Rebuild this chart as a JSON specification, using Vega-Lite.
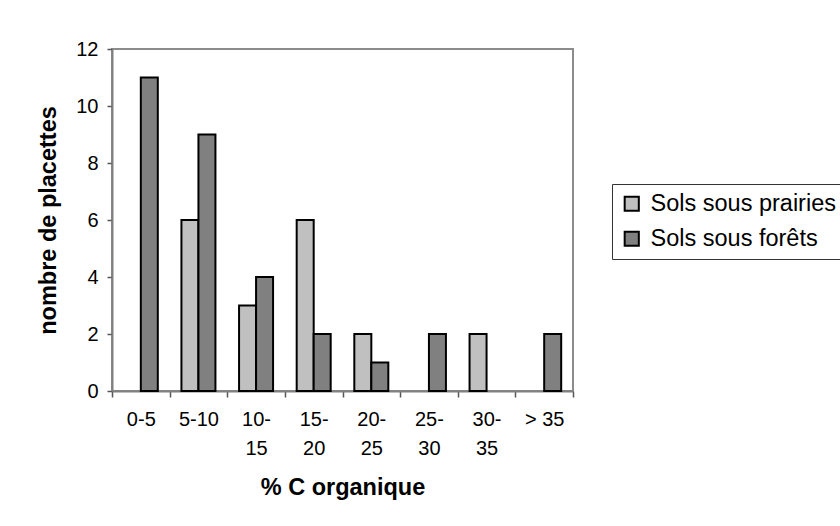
{
  "$schema": "https://vega.github.io/schema/vega-lite/v6.json",
  "width": 461,
  "height": 342,
  "autosize": {"type": "none"},
  "padding": {"left": 112, "top": 49, "right": 267, "bottom": 135},
  "background": "white",
  "config": {
    "font": "Liberation Sans",
    "view": {"stroke": "#8c8c8c", "strokeWidth": 2}
  },
  "data": {
    "values": [
      {"classe": "0-5", "serie": "Sols sous forêts", "n": 11},
      {"classe": "5-10", "serie": "Sols sous prairies", "n": 6},
      {"classe": "5-10", "serie": "Sols sous forêts", "n": 9},
      {"classe": "10-15", "serie": "Sols sous prairies", "n": 3},
      {"classe": "10-15", "serie": "Sols sous forêts", "n": 4},
      {"classe": "15-20", "serie": "Sols sous prairies", "n": 6},
      {"classe": "15-20", "serie": "Sols sous forêts", "n": 2},
      {"classe": "20-25", "serie": "Sols sous prairies", "n": 2},
      {"classe": "20-25", "serie": "Sols sous forêts", "n": 1},
      {"classe": "25-30", "serie": "Sols sous forêts", "n": 2},
      {"classe": "30-35", "serie": "Sols sous prairies", "n": 2},
      {"classe": "> 35", "serie": "Sols sous forêts", "n": 2}
    ]
  },
  "mark": {"type": "bar", "stroke": "black", "strokeWidth": 2},
  "encoding": {
    "x": {
      "field": "classe",
      "type": "nominal",
      "sort": ["0-5", "5-10", "10-15", "15-20", "20-25", "25-30", "30-35", "> 35"],
      "scale": {"domain": ["0-5", "5-10", "10-15", "15-20", "20-25", "25-30", "30-35", "> 35"], "paddingInner": 0, "paddingOuter": 0},
      "axis": {
        "title": "% C organique",
        "titleFontSize": 23.5,
        "titleFontWeight": "bold",
        "titleColor": "black",
        "titlePadding": 17,
        "labelAngle": 0,
        "labelFontSize": 20,
        "labelColor": "black",
        "labelPadding": 12,
        "labelLineHeight": 29,
        "labelExpr": "length(datum.label) > 4 ? [substring(datum.label, 0, 3), substring(datum.label, 3)] : datum.label",
        "tickBand": "extent",
        "tickSize": 6,
        "tickColor": "#555555",
        "tickWidth": 1.5,
        "domainColor": "#808080",
        "domainWidth": 2
      }
    },
    "xOffset": {
      "field": "serie",
      "type": "nominal",
      "scale": {"domain": ["Sols sous prairies", "Sols sous forêts"], "paddingInner": 0, "paddingOuter": 0.695}
    },
    "y": {
      "field": "n",
      "type": "quantitative",
      "scale": {"domain": [0, 12], "nice": false},
      "axis": {
        "title": "nombre de placettes",
        "titleFontSize": 23.5,
        "titleFontWeight": "bold",
        "titleColor": "black",
        "titlePadding": 15,
        "values": [0, 2, 4, 6, 8, 10, 12],
        "labelFontSize": 20,
        "labelColor": "black",
        "labelPadding": 9,
        "tickSize": 5,
        "tickColor": "#555555",
        "tickWidth": 1.5,
        "domainColor": "#808080",
        "domainWidth": 2,
        "grid": false
      }
    },
    "color": {
      "field": "serie",
      "type": "nominal",
      "scale": {"domain": ["Sols sous prairies", "Sols sous forêts"], "range": ["#C0C0C0", "#808080"]},
      "legend": {
        "title": null,
        "orient": "none",
        "legendX": 500,
        "legendY": 135,
        "strokeColor": "#333333",
        "padding": 8,
        "labelFontSize": 23.5,
        "labelColor": "black",
        "labelLimit": 400,
        "labelOffset": 7,
        "symbolType": "square",
        "symbolSize": 200,
        "symbolStrokeColor": "black",
        "symbolStrokeWidth": 2,
        "symbolOpacity": 1,
        "rowPadding": 10
      }
    }
  }
}
